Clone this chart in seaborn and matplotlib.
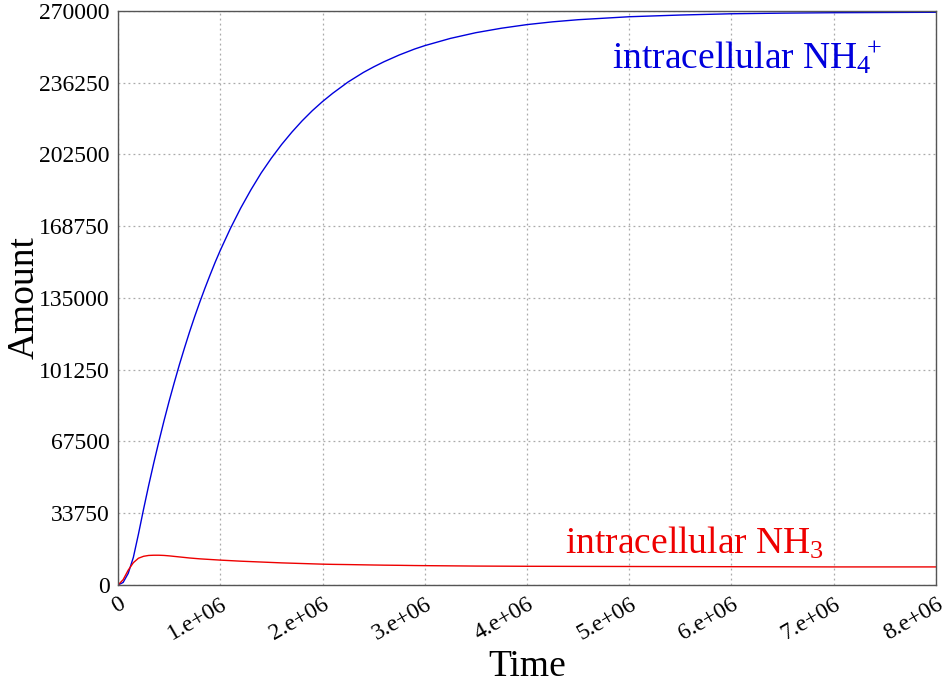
import matplotlib
matplotlib.use("Agg")
import matplotlib.pyplot as plt
import seaborn as sns
import pandas as pd

# 数据：时间（单位 1e6）与两条曲线的数量
time_m = [0, 0.05, 0.1, 0.15, 0.2, 0.25, 0.3, 0.35, 0.4, 0.45,
          0.5, 0.55, 0.6, 0.65, 0.7, 0.75, 0.8, 0.85, 0.9, 0.95,
          1.0, 1.1, 1.2, 1.3, 1.4, 1.5, 1.6, 1.7, 1.8, 1.9,
          2.0, 2.1, 2.25, 2.4, 2.5, 2.6, 2.75, 2.9, 3.0, 3.25,
          3.5, 3.75, 4.0, 4.25, 4.5, 5.0, 5.5, 6.0, 6.5, 7.0,
          7.5, 8.0]
nh4_amount = [0, 1200, 5500, 13000, 24000, 35700, 46900, 57500, 67600, 77300,
              86500, 95200, 103600, 111500, 119100, 126300, 133100, 139600, 145800, 151800,
              157400, 167800, 177300, 185900, 193800, 200800, 207200, 213000, 218300, 223100,
              227400, 231300, 236600, 241100, 243700, 246100, 249300, 252100, 253700, 257100,
              259800, 261900, 263600, 264900, 265900, 267300, 268100, 268700, 269000, 269200,
              269300, 269400]
nh3_amount = [0, 2500, 7000, 10500, 12600, 13500, 13900, 14000, 14000, 13900,
              13700, 13450, 13200, 12950, 12700, 12500, 12300, 12150, 12000, 11850,
              11700, 11450, 11200, 11000, 10800, 10600, 10400, 10250, 10100, 9950,
              9800, 9700, 9600, 9480, 9400, 9330, 9250, 9150, 9100, 9000,
              8900, 8850, 8800, 8780, 8750, 8700, 8650, 8600, 8550, 8500,
              8500, 8500]
y_ticks = [0, 33750, 67500, 101250, 135000, 168750, 202500, 236250, 270000]
x_ticks = [0, 1e6, 2e6, 3e6, 4e6, 5e6, 6e6, 7e6, 8e6]
x_tick_labels = ["0", "1.e+06", "2.e+06", "3.e+06", "4.e+06", "5.e+06",
                 "6.e+06", "7.e+06", "8.e+06"]

sns.set_style("white")
plt.rcParams["font.family"] = ["Liberation Serif", "DejaVu Serif"]
plt.rcParams["mathtext.fontset"] = "custom"
plt.rcParams["mathtext.rm"] = "Liberation Serif"
plt.rcParams["mathtext.it"] = "Liberation Serif:italic"

time = [t * 1e6 for t in time_m]
df = pd.DataFrame({"time": time, "NH4": nh4_amount, "NH3": nh3_amount})

fig = plt.figure(figsize=(9.48, 6.83), dpi=100)
ax = fig.add_axes([0.1245, 0.1435, 0.8628, 0.8404])

sns.lineplot(data=df, x="time", y="NH4", ax=ax, color="#0000dd", linewidth=1.0)
sns.lineplot(data=df, x="time", y="NH3", ax=ax, color="#ee0000", linewidth=1.0)

ax.set_xlim(0, 8e6)
ax.set_ylim(0, 270000)
ax.set_yticks(y_ticks)
ax.set_yticklabels([str(v) for v in y_ticks], fontsize=17, color="black")
ax.set_xticks(x_ticks)
ax.set_xticklabels(x_tick_labels, fontsize=17, color="black", rotation=30,
                   ha="right", rotation_mode="anchor")
ax.tick_params(length=0, pad=6)
ax.grid(True, linestyle=(0, (1.5, 2.5)), color="#aaaaaa", linewidth=0.9)
for s in ax.spines.values():
    s.set_color("#555555")
    s.set_linewidth(1.0)

ax.set_xlabel("Time", fontsize=27, color="black", labelpad=4)
ax.set_ylabel("Amount", fontsize=27, color="black", labelpad=-2)

ax.text(0.604, 0.9, r"intracellular NH$_4\!\!{}^+$", transform=ax.transAxes,
        color="#0000dd", fontsize=27, va="baseline")
ax.text(0.547, 0.055, r"intracellular NH$_3$", transform=ax.transAxes,
        color="#ee0000", fontsize=27, va="baseline")

fig.savefig("out.png", dpi=100)
